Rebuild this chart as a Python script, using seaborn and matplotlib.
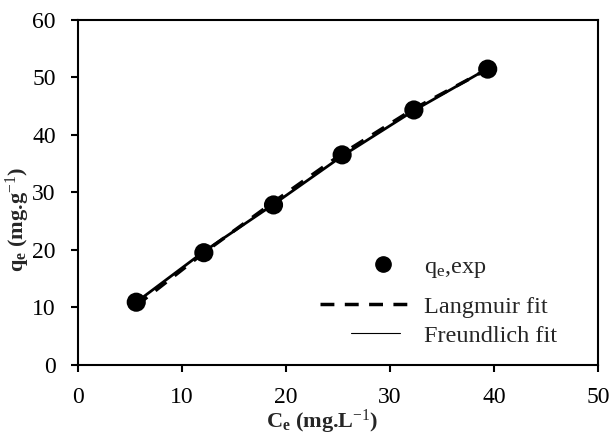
import numpy as np
import pandas as pd
import matplotlib
matplotlib.use("Agg")
import matplotlib.pyplot as plt
from matplotlib.lines import Line2D
import seaborn as sns

ce = [5.6, 12.1, 18.8, 25.4, 32.3, 39.4]
qe_exp = [10.9, 19.5, 27.8, 36.5, 44.3, 51.4]
qe_langmuir = [10.3, 19.5, 28.3, 36.7, 44.5, 51.4]
qe_freundlich = [10.9, 19.7, 27.9, 36.3, 44.2, 51.5]

x_ticks = [0, 10, 20, 30, 40, 50]
y_ticks = [0, 10, 20, 30, 40, 50, 60]

sns.set_style("ticks")
plt.rcParams['font.family'] = ['Liberation Serif', 'DejaVu Serif']
plt.rcParams['mathtext.fontset'] = 'custom'
plt.rcParams['mathtext.rm'] = 'Liberation Serif'
plt.rcParams['mathtext.it'] = 'Liberation Serif:italic'
plt.rcParams['mathtext.bf'] = 'Liberation Serif:bold'

df = pd.DataFrame({"Ce": ce, "exp": qe_exp, "lang": qe_langmuir, "freu": qe_freundlich})

fig = plt.figure(figsize=(6.12, 4.36), dpi=100)
ax = fig.add_axes([0.1275, 0.163, 0.8495, 0.792])

sns.lineplot(data=df, x="Ce", y="freu", ax=ax, color="black", lw=2.0, zorder=2)
sns.lineplot(data=df, x="Ce", y="lang", ax=ax, color="black", lw=2.5,
             zorder=2).lines[-1].set_dashes((4, 3))
sns.scatterplot(data=df, x="Ce", y="exp", ax=ax, color="black", s=190,
                edgecolor="none", zorder=3)

ax.set_xlim(0, 50)
ax.set_ylim(0, 60)
ax.set_xticks(x_ticks)
ax.set_yticks(y_ticks)
for s in ax.spines.values():
    s.set_linewidth(1.5)
    s.set_color("black")
ax.tick_params(direction="out", length=5, width=1.5, labelsize=17, pad=11, colors="black")

ax.set_xlabel(r"$\mathbf{C_e}$ (mg.L$^{-1}$)", fontsize=16, fontweight="bold")
ax.set_ylabel(r"$\mathbf{q_e}$ (mg.g$^{-1}$)", fontsize=16, fontweight="bold")
ax.xaxis.set_label_coords(0.47, -0.125)
ax.yaxis.set_label_coords(-0.088, 0.42)

# legends (three, to match the uneven spacing and handle lengths)
fs = 17.5
common = dict(loc="center left", frameon=False, fontsize=fs, borderpad=0, borderaxespad=0)
h_exp = Line2D([], [], ls="none", marker="o", color="black", markersize=11)
leg1 = ax.legend([h_exp], [r"q$_\mathrm{e}$,exp"], bbox_to_anchor=(0.538, 0.281),
                 handlelength=2.06, handletextpad=0.66, **common)
ax.add_artist(leg1)
h_l = Line2D([], [], color="black", lw=2.5, dashes=(4, 3))
leg2 = ax.legend([h_l], ["Langmuir fit"], bbox_to_anchor=(0.465, 0.168),
                 handlelength=3.62, handletextpad=0.66, **common)
ax.add_artist(leg2)
h_f = Line2D([], [], color="black", lw=0.8)
ax.legend([h_f], ["Freundlich fit"], bbox_to_anchor=(0.525, 0.084),
          handlelength=2.02, handletextpad=0.99, **common)

fig.savefig("out.png", dpi=100)
